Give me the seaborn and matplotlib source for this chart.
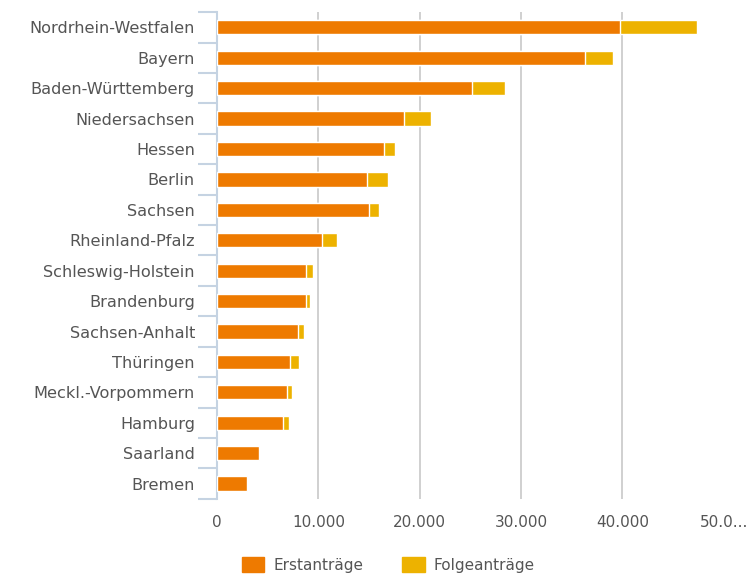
import pandas as pd
import numpy as np
import matplotlib.pyplot as plt
from matplotlib.patches import Patch
import seaborn as sns

# Data
states = ['Nordrhein-Westfalen', 'Bayern', 'Baden-Württemberg', 'Niedersachsen',
          'Hessen', 'Berlin', 'Sachsen', 'Rheinland-Pfalz', 'Schleswig-Holstein',
          'Brandenburg', 'Sachsen-Anhalt', 'Thüringen', 'Meckl.-Vorpommern',
          'Hamburg', 'Saarland', 'Bremen']
erstantraege = [39800, 36300, 25200, 18450, 16450, 14750, 15000, 10400, 8750,
                8750, 7950, 7200, 6900, 6500, 4100, 2950]
folgeantraege = [7600, 2750, 3200, 2650, 1100, 2150, 950, 1450, 700,
                 450, 650, 900, 450, 550, 0, 0]
x_ticks = [0, 10000, 20000, 30000, 40000, 50000]
x_labels = ['0', '10.000', '20.000', '30.000', '40.000', '50.0...']

df = pd.DataFrame({'Land': states, 'Erst': erstantraege, 'Folge': folgeantraege})
df['Gesamt'] = df['Erst'] + df['Folge']

orange = '#EE7A00'
yellow = '#EDB200'
text_col = '#555555'
axis_col = '#C5D3E2'

sns.set_style('white')
plt.rcParams['font.family'] = ['DejaVu Sans']

fig = plt.figure(figsize=(7.54, 5.76), dpi=100)
ax = fig.add_axes([0.288, 0.134, 0.712, 0.845])

# stacked look: total in yellow, first applications in orange on top
sns.barplot(data=df, x='Gesamt', y='Land', color=yellow, saturation=1, width=0.47,
            edgecolor='white', linewidth=1, ax=ax, zorder=2)
sns.barplot(data=df, x='Erst', y='Land', color=orange, saturation=1, width=0.47,
            edgecolor='white', linewidth=1, ax=ax, zorder=3)

ax.set_xlim(0, 53000)
ax.set_ylim(len(states) - 0.5, -0.5)
ax.set_xticks(x_ticks)
ax.set_xticklabels(x_labels)
ax.set_xlabel('')
ax.set_ylabel('')

ax.grid(axis='x', color='#C8C8C8', linewidth=1.2, zorder=0)
ax.get_xgridlines()[0].set_visible(False)
ax.get_xgridlines()[-1].set_visible(False)
ax.set_axisbelow(True)

for s in ['top', 'right', 'bottom']:
    ax.spines[s].set_visible(False)
ax.spines['left'].set_color(axis_col)
ax.spines['left'].set_linewidth(1.5)

ax.tick_params(axis='x', length=0, labelsize=11, labelcolor=text_col, pad=12)
ax.tick_params(axis='y', which='major', length=0, labelsize=11.6,
               labelcolor=text_col, pad=16)
ax.set_yticks(np.arange(-0.5, len(states), 1), minor=True)
ax.tick_params(axis='y', which='minor', left=True, length=14, width=1.5,
               color=axis_col)

handles = [Patch(facecolor=orange, edgecolor=orange, label='Erstanträge'),
           Patch(facecolor=yellow, edgecolor=yellow, label='Folgeanträge')]
fig.legend(handles=handles, loc='lower center', bbox_to_anchor=(0.515, -0.018),
           ncol=2, frameon=False, fontsize=11, labelcolor=text_col,
           handlelength=1.5, handleheight=1.2, columnspacing=2.5, handletextpad=0.6)

fig.savefig('out.png', dpi=100)
